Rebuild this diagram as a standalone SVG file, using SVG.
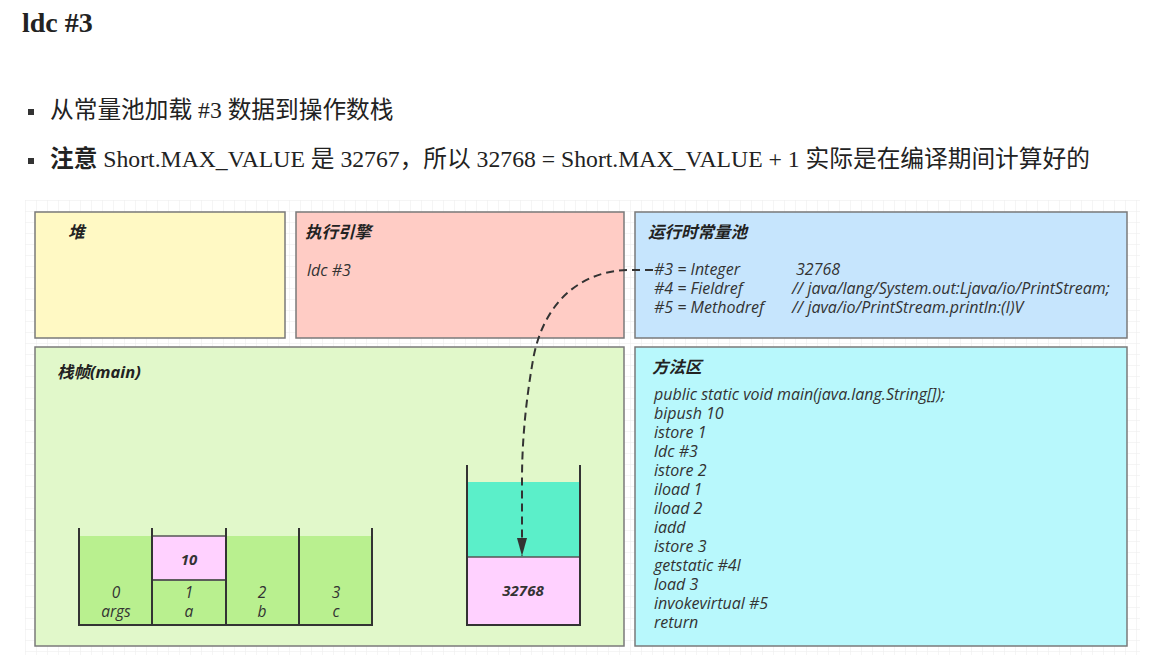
<svg xmlns="http://www.w3.org/2000/svg" width="1164" height="668" viewBox="0 0 1164 668">
<defs>
<pattern id="grid" width="11" height="11" patternUnits="userSpaceOnUse" x="25" y="200">
<path d="M 11 0 L 0 0 0 11" fill="none" stroke="#ececec" stroke-width="1"/>
</pattern>
<marker id="arrow" viewBox="0 0 18 10" refX="18" refY="5" markerWidth="18" markerHeight="10" orient="auto" markerUnits="userSpaceOnUse">
<path d="M0,0 L18,5 L0,10 z" fill="#333"/>
</marker>
<style>
.doc{font-family:"Liberation Serif","Noto Sans CJK SC",serif;fill:#222;}
.h1{font-size:28px;font-weight:bold;}
.bul{font-size:23.7px;}
.box{stroke:#7a7a7a;stroke-width:1.5;}
.t{font-family:"Open Sans","Noto Sans CJK SC",sans-serif;font-style:italic;fill:#333;}
.title{font-size:16.5px;font-weight:bold;fill:#222;}
.txt{font-size:16px;}
.lbl{font-size:15.5px;text-anchor:middle;}
.val{font-size:15px;font-weight:bold;text-anchor:middle;}
.wall{stroke:#333;stroke-width:2;fill:none;}
.cell{stroke:#555;stroke-width:1.5;}
</style>
</defs>
<rect width="1164" height="668" fill="#ffffff"/>
<rect x="25" y="200" width="1115" height="455" fill="url(#grid)"/>

<g id="header" class="doc">
<text x="22" y="32" class="h1">ldc #3</text>
<rect x="28" y="109" width="6" height="6" fill="#333"/>
<text x="50" y="118" class="bul">从常量池加载 #3 数据到操作数栈</text>
<rect x="28" y="158" width="6" height="6" fill="#333"/>
<text x="50" y="167" class="bul"><tspan font-weight="bold">注意</tspan> Short.MAX_VALUE 是 32767，所以 32768 = Short.MAX_VALUE + 1 实际是在编译期间计算好的</text>
</g>

<g id="heap">
<rect x="35" y="212" width="250" height="126" fill="#FFF9C4" class="box"/>
<text x="68" y="238" class="t title">堆</text>
</g>

<g id="engine">
<rect x="296" y="212" width="328" height="126" fill="#FFCCC5" class="box"/>
<text x="305" y="238" class="t title">执行引擎</text>
<text x="307" y="276" class="t txt">ldc #3</text>
</g>

<g id="constant-pool">
<rect x="635" y="212" width="492" height="126" fill="#C6E5FD" class="box"/>
<text x="648" y="238" class="t title">运行时常量池</text>
<text x="654" y="275" class="t txt">#3 = Integer</text>
<text x="796" y="275" class="t txt">32768</text>
<text x="654" y="294" class="t txt">#4 = Fieldref</text>
<text x="792" y="294" class="t txt">// java/lang/System.out:Ljava/io/PrintStream;</text>
<text x="654" y="313" class="t txt">#5 = Methodref</text>
<text x="792" y="313" class="t txt">// java/io/PrintStream.println:(I)V</text>
</g>

<g id="stack-frame">
<rect x="35" y="347" width="589" height="299" fill="#E1F8CA" class="box"/>
<text x="57" y="378" class="t title">栈帧(main)</text>
</g>

<g id="local-vars">
<rect x="79" y="536" width="293" height="89" fill="#B9F08F"/>
<rect x="152" y="536" width="74" height="44" fill="#FFD1FF" class="cell"/>
<line x1="152" y1="580" x2="226" y2="580" class="cell"/>
<path d="M79 528 V625 H372 V528 M152 528 V625 M226 528 V625 M299 528 V625" class="wall"/>
<text x="189" y="565" class="t val">10</text>
<text x="116" y="598" class="t lbl">0</text>
<text x="116" y="617" class="t lbl">args</text>
<text x="189" y="598" class="t lbl">1</text>
<text x="189" y="617" class="t lbl">a</text>
<text x="262" y="598" class="t lbl">2</text>
<text x="262" y="617" class="t lbl">b</text>
<text x="336" y="598" class="t lbl">3</text>
<text x="336" y="617" class="t lbl">c</text>
</g>

<g id="operand-stack">
<rect x="467" y="482" width="113" height="75" fill="#5BEFC9"/>
<rect x="467" y="557" width="113" height="68" fill="#FFD1FF"/>
<line x1="467" y1="557" x2="580" y2="557" class="cell"/>
<path d="M467 465 V625 H580 V465" class="wall"/>
<text x="523" y="596" class="t val">32768</text>
</g>

<g id="method-area">
<rect x="635" y="347" width="492" height="299" fill="#B8F8FC" class="box"/>
<text x="652" y="373" class="t title">方法区</text>
<text x="654" y="400" class="t txt">public static void main(java.lang.String[]);</text>
<text x="654" y="419" class="t txt">bipush 10</text>
<text x="654" y="438" class="t txt">istore 1</text>
<text x="654" y="457" class="t txt">ldc #3</text>
<text x="654" y="476" class="t txt">istore 2</text>
<text x="654" y="495" class="t txt">iload 1</text>
<text x="654" y="514" class="t txt">iload 2</text>
<text x="654" y="533" class="t txt">iadd</text>
<text x="654" y="552" class="t txt">istore 3</text>
<text x="654" y="571" class="t txt">getstatic #4I</text>
<text x="654" y="590" class="t txt">load 3</text>
<text x="654" y="609" class="t txt">invokevirtual #5</text>
<text x="654" y="628" class="t txt">return</text>
</g>

<g id="connectors">
<path d="M653 270 L627 270 C575 272 542 308 533 360 C526 400 522 440 522 480 L522 556" fill="none" stroke="#333" stroke-width="2" stroke-dasharray="8 5" marker-end="url(#arrow)"/>
</g>
</svg>
